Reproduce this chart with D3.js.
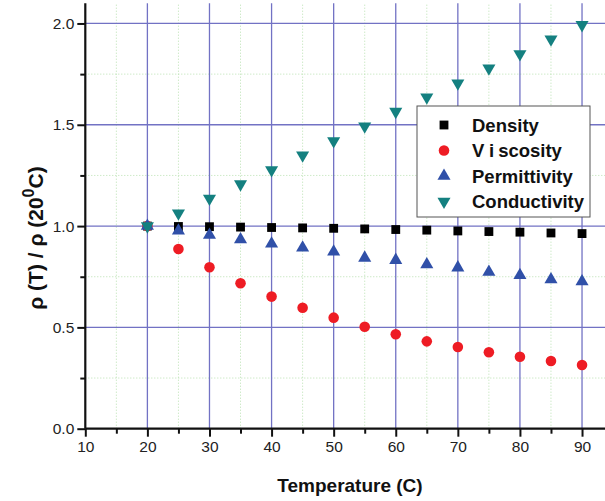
<!DOCTYPE html>
<html><head><meta charset="utf-8">
<script src="https://cdn.jsdelivr.net/npm/d3@7"></script>
<style>body{margin:0;background:#fff}svg{display:block}</style>
</head><body>
<svg id="c" width="605" height="501"></svg>
<script>
const temps = [20,25,30,35,40,45,50,55,60,65,70,75,80,85,90];
const density = [1.0,0.998,0.997,0.995,0.993,0.991,0.989,0.986,0.983,0.980,0.976,0.973,0.970,0.966,0.963];
const viscosity = [1.0,0.887,0.797,0.718,0.652,0.597,0.548,0.503,0.466,0.431,0.403,0.377,0.355,0.334,0.314];
const permittivity = [1.0,0.977,0.956,0.934,0.913,0.893,0.873,0.843,0.832,0.81,0.795,0.773,0.757,0.736,0.726];
const conductivity = [1.0,1.063,1.136,1.207,1.277,1.35,1.42,1.493,1.565,1.636,1.705,1.779,1.849,1.922,1.993];
const seriesNames = ["Density","Viscosity","Permittivity","Conductivity"];
const xTicks = [10,20,30,40,50,60,70,80,90];
const yTicks = [0.0,0.5,1.0,1.5,2.0];

const svg = d3.select("#c");
const x = d3.scaleLinear().domain([10,93.7]).range([85.3,605]);
const y = d3.scaleLinear().domain([0,2.1]).range([428.7,3.2]);
const font = "'Liberation Sans', Arial, sans-serif";

const series = [
  {name:seriesNames[0], vals:density, color:"#000000", sym:d3.symbolSquare, size:78, rot:0},
  {name:seriesNames[1], vals:viscosity, color:"#ee1c24", sym:d3.symbolCircle, size:88, rot:0},
  {name:seriesNames[2], vals:permittivity, color:"#3050a8", sym:d3.symbolTriangle, size:74, rot:0},
  {name:seriesNames[3], vals:conductivity, color:"#148080", sym:d3.symbolTriangle, size:74, rot:180}
];

// minor grid
const minorX = d3.range(15,95,10);
const minorY = d3.range(0.25,2.1,0.5);
const g = svg.append("g");
g.selectAll(".mx").data(minorX).join("line")
  .attr("x1",d=>x(d)).attr("x2",d=>x(d)).attr("y1",y(0)).attr("y2",y(2.1))
  .attr("stroke","#b8e0b0").attr("stroke-width",1).attr("stroke-dasharray","1,2");
g.selectAll(".my").data(minorY).join("line")
  .attr("x1",x(10)).attr("x2",605).attr("y1",d=>y(d)).attr("y2",d=>y(d))
  .attr("stroke","#b8e0b0").attr("stroke-width",1).attr("stroke-dasharray","1,2");
// major grid
g.selectAll(".Mx").data(xTicks.slice(1)).join("line")
  .attr("x1",d=>x(d)).attr("x2",d=>x(d)).attr("y1",y(0)).attr("y2",y(2.1))
  .attr("stroke","#7272c4").attr("stroke-width",1.3);
g.selectAll(".My").data(yTicks.slice(1)).join("line")
  .attr("x1",x(10)).attr("x2",605).attr("y1",d=>y(d)).attr("y2",d=>y(d))
  .attr("stroke","#7272c4").attr("stroke-width",1.3);

// axes
const xAxis = d3.axisBottom(x).tickValues(xTicks).tickFormat(d3.format("d")).tickSize(8).tickPadding(4);
const xMinor = d3.axisBottom(x).tickValues(minorX).tickFormat("").tickSize(5);
const yAxis = d3.axisLeft(y).tickValues(yTicks).tickFormat(d3.format(".1f")).tickSize(8).tickPadding(3);
const yMinor = d3.axisLeft(y).tickValues(minorY).tickFormat("").tickSize(5);
function style(sel){
  sel.select(".domain").attr("stroke","#111").attr("stroke-width",2.2);
  sel.selectAll(".tick line").attr("stroke","#111").attr("stroke-width",2);
  sel.selectAll(".tick text").attr("font-family",font).attr("font-size",15.5).attr("fill","#222");
}
svg.append("g").attr("transform",`translate(0,${y(0)})`).call(xMinor).call(style).select(".domain").remove();
svg.append("g").attr("transform",`translate(${x(10)},0)`).call(yMinor).call(style).select(".domain").remove();
const xa = svg.append("g").attr("transform",`translate(0,${y(0)})`).call(xAxis).call(style);
xa.select(".domain").attr("d",`M${x(10)},0H605`);
const ya = svg.append("g").attr("transform",`translate(${x(10)},0)`).call(yAxis).call(style);
ya.select(".domain").attr("d",`M0,${y(0)}V${y(2.1)}`);

// points
series.forEach(s=>{
  svg.append("g").selectAll("path").data(s.vals).join("path")
    .attr("d",d3.symbol().type(s.sym).size(s.size))
    .attr("transform",(d,i)=>`translate(${x(temps[i])},${y(d)}) rotate(${s.rot})`)
    .attr("fill",s.color);
});

// legend
const lg = svg.append("g");
lg.append("rect").attr("x",417).attr("y",106).attr("width",173).attr("height",111)
  .attr("fill","#fff").attr("stroke","#555").attr("stroke-width",1);
series.forEach((s,i)=>{
  const yy = 125 + i*25.5;
  lg.append("path").attr("d",d3.symbol().type(s.sym).size(s.size))
    .attr("transform",`translate(444,${yy}) rotate(${s.rot})`).attr("fill",s.color);
  const t = lg.append("text").attr("x",472).attr("y",yy+6.5)
    .attr("font-family",font).attr("font-weight","bold").attr("font-size",18.5).attr("fill","#111");
  if (s.name === "Viscosity") {
    t.append("tspan").text("V");
    t.append("tspan").attr("dx",5).text("i");
    t.append("tspan").attr("dx",4).text("scosity");
  } else {
    t.text(s.name);
  }
});

// titles
svg.append("text").attr("x",350).attr("y",492).attr("text-anchor","middle")
  .attr("font-family",font).attr("font-weight","bold").attr("font-size",19).attr("fill","#111")
  .text("Temperature (C)");
const yt = svg.append("text").attr("transform","translate(43,238) rotate(-90)").attr("text-anchor","middle")
  .attr("font-family",font).attr("font-weight","bold").attr("font-size",21).attr("fill","#111");
yt.append("tspan").text("ρ (T) / ρ (20");
yt.append("tspan").attr("font-size",16).attr("dy",-9).text("0");
yt.append("tspan").attr("dy",9).text("C)");
</script>
</body></html>
